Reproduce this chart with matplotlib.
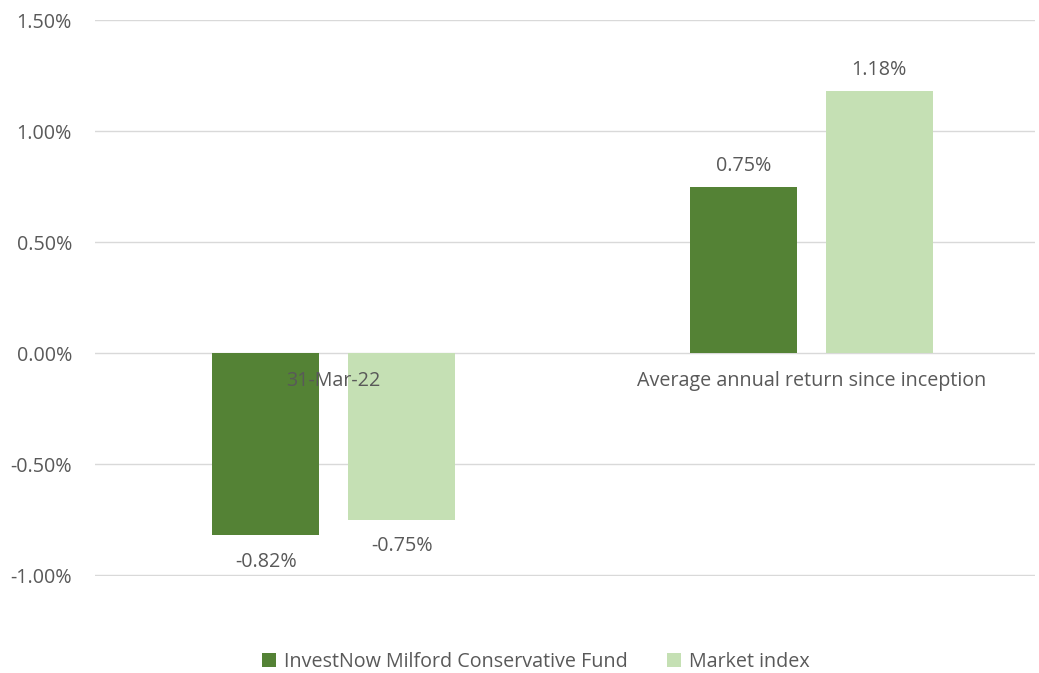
import matplotlib.pyplot as plt
import numpy as np

plt.rcParams['font.family'] = ['Open Sans', 'DejaVu Sans']

categories = ['31-Mar-22', 'Average annual return since inception']
fund_values = [-0.82, 0.75]
index_values = [-0.75, 1.18]
series_names = ['InvestNow Milford Conservative Fund', 'Market index']

dark_green = '#548235'
light_green = '#c5e0b4'
text_color = '#595959'
fs = 14.2

fig = plt.figure(figsize=(10.39, 6.73), dpi=100)
ax = fig.add_axes([0.0914, 0.144, 0.905, 0.826])

x = np.arange(len(categories))
width = 0.224
offset = 0.1424

bars1 = ax.bar(x - offset, fund_values, width, color=dark_green, label=series_names[0], zorder=3)
bars2 = ax.bar(x + offset, index_values, width, color=light_green, label=series_names[1], zorder=3)

# data labels above/below each bar
for bars in (bars1, bars2):
    for rect in bars:
        h = rect.get_height()
        ax.annotate(f'{h:.2f}%',
                    xy=(rect.get_x() + rect.get_width() / 2, h),
                    xytext=(0, 8 if h >= 0 else -12),
                    textcoords='offset points',
                    ha='center', va='bottom' if h >= 0 else 'top',
                    fontsize=fs, color=text_color, zorder=4)

# category labels sit just under the zero line
for xi, cat in zip(x, categories):
    ax.annotate(cat, xy=(xi, 0), xytext=(0, -13), textcoords='offset points',
                ha='center', va='top', fontsize=fs, color=text_color, zorder=5)

ax.set_xlim(-0.5, 1.469)
ax.set_ylim(-1.004, 1.5)
yticks = [-1.0, -0.5, 0.0, 0.5, 1.0, 1.5]
ax.set_yticks(yticks)
ax.set_yticklabels([f'{t:.2f}%' for t in yticks])
ax.set_xticks([])
ax.tick_params(axis='y', length=0, pad=16.5, labelsize=fs, labelcolor=text_color)
ax.grid(axis='y', color='#d9d9d9', linewidth=1, zorder=0)
for s in ax.spines.values():
    s.set_visible(False)

fig.legend(loc='center', bbox_to_anchor=(0.516, 0.016), ncol=2, frameon=False,
           fontsize=fs, labelcolor=text_color, handlelength=0.7, handleheight=0.7,
           handletextpad=0.4, columnspacing=2.0)

plt.savefig('out.png', dpi=100)
